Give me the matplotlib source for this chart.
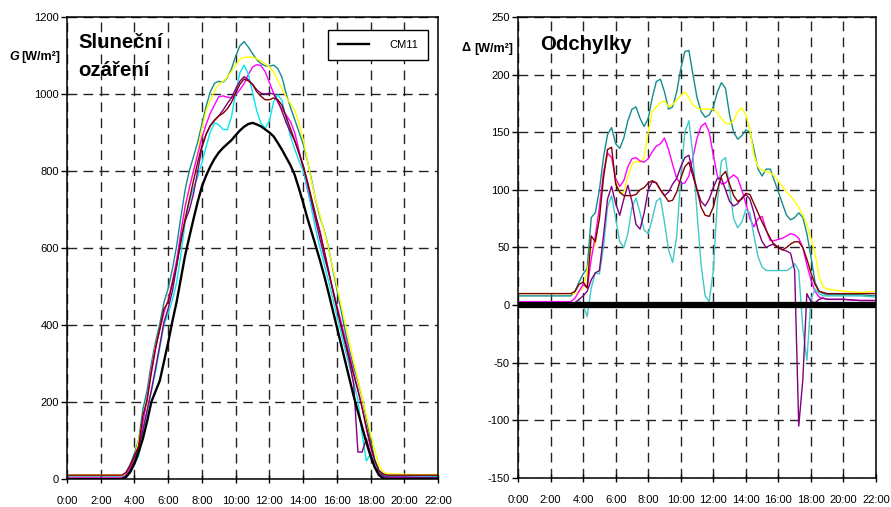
import matplotlib
matplotlib.use("Agg")
import matplotlib.pyplot as plt

plt.rcParams["font.family"] = ["Liberation Sans", "DejaVu Sans"]
plt.rcParams["axes.unicode_minus"] = False

# sample times [h]
TIME = [0, 1, 2, 3,
        3.25, 3.5, 3.75, 4.0, 4.25, 4.5, 4.75, 5.0, 5.25, 5.5, 5.75, 6.0,
        6.25, 6.5, 6.75, 7.0, 7.25, 7.5, 7.75, 8.0, 8.25, 8.5, 8.75, 9.0,
        9.25, 9.5, 9.75, 10.0, 10.25, 10.5, 10.75, 11.0, 11.25, 11.5, 11.75, 12.0,
        12.25, 12.5, 12.75, 13.0, 13.25, 13.5, 13.75, 14.0, 14.25, 14.5, 14.75, 15.0,
        15.25, 15.5, 15.75, 16.0, 16.25, 16.5, 16.75, 17.0, 17.25, 17.5, 17.75, 18.0,
        18.25, 18.5, 18.75, 19.0,
        20, 21, 22]

# reference pyranometer CM11 [W/m2]
CM11 = [0, 0, 0, 0,
        0, 5, 18, 40, 70, 105, 150, 200, 228, 255, 305, 355,
        410, 460, 520, 580, 628, 675, 720, 760, 788, 812, 832, 848,
        860, 870, 880, 893, 905, 915, 922, 925, 921, 916, 908, 900,
        890, 873, 855, 835, 815, 790, 755, 718, 678, 642, 605, 568,
        528, 485, 440, 395, 350, 305, 260, 215, 175, 135, 95, 60,
        30, 10, 2, 0,
        0, 0, 0]

# deviations of the other sensors from CM11 [W/m2]
DEV_TEAL = [8, 8, 8, 8,
            8, 12, 20, 27, 32, 76, 80, 100, 128, 148, 154, 140,
            136, 145, 160, 170, 172, 162, 155, 162, 180, 194, 196, 185,
            170, 172, 185, 205, 220, 221, 200, 180, 168, 163, 165, 172,
            185, 193, 188, 165, 150, 144, 147, 152, 150, 135, 118, 112,
            118, 118, 108, 98, 88, 78, 74, 76, 80, 76, 62, 42,
            20, 12, 10, 9,
            9, 9, 8]
DEV_YELLOW = [10, 10, 10, 10,
              10, 10, 12, 15, 30, 48, 52, 80, 115, 130, 128, 110,
              97, 98, 112, 122, 125, 124, 128, 150, 168, 172, 176, 177,
              172, 174, 178, 182, 185, 180, 174, 171, 170, 170, 170, 170,
              167, 162, 158, 157, 160, 168, 171, 165, 152, 130, 120, 117,
              116, 115, 112, 107, 103, 98, 95, 90, 85, 78, 70, 58,
              45, 25, 16, 14,
              12, 11, 12]
DEV_MAGENTA = [3, 3, 3, 3,
               3, 6, 12, 18, 15, 40, 60, 85, 115, 132, 128, 110,
               103, 108, 120, 127, 128, 125, 124, 127, 133, 138, 140, 145,
               135, 122, 110, 105, 106, 112, 128, 145, 155, 158, 150, 130,
               112, 105, 106, 110, 113, 110, 100, 88, 75, 68, 75, 77,
               65, 56, 56, 57, 58, 60, 62, 61, 58, 50, 35, 22,
               12, 7, 6, 5,
               5, 4, 4]
DEV_PURPLE = [0, 0, 0, 0,
              0, 2, 5, 8, 12, 22, 28, 30, 60, 92, 103, 88,
              78, 92, 104, 90, 70, 66, 80, 100, 107, 106, 100, 95,
              98, 105, 110, 120, 128, 130, 115, 100, 90, 86, 92, 102,
              110, 110, 100, 90, 86, 88, 93, 96, 92, 80, 65, 55,
              50, 52, 53, 50, 48, 47, 45, 30, -105, -65, 10, 3,
              2, 5, 6, 5,
              5, 4, 4]
DEV_DARKRED = [10, 10, 10, 10,
               10, 12, 18, 20, 15, 60, 55, 75, 110, 135, 137, 105,
               98, 95, 95, 95, 96, 100, 102, 106, 108, 106, 100, 95,
               90, 91, 98, 110, 120, 124, 112, 100, 85, 78, 77, 85,
               100, 112, 116, 105, 95, 90, 92, 97, 96, 88, 80, 72,
               65, 58, 52, 50, 48, 50, 53, 55, 55, 50, 40, 28,
               18, 12, 11, 10,
               10, 10, 10]
DEV_CYAN = [0, 0, 0, 0,
            0, 2, 4, 0, -10, 15, 28, 27, 50, 85, 95, 75,
            55, 50, 62, 85, 93, 80, 65, 62, 75, 90, 93, 72,
            48, 37, 60, 110, 150, 160, 130, 80, 35, 8, 3, 30,
            90, 125, 128, 100, 75, 67, 72, 83, 80, 60, 42, 33,
            30, 30, 30, 30, 30, 30, 32, 36, 30, -20, -48, 5,
            14, 10, 8, 8,
            8, 8, 7]

SERIES = [
    (DEV_TEAL, "#148c8c", "#148c8c"),
    (DEV_YELLOW, "#ffff00", "#ffff00"),
    (DEV_MAGENTA, "#ff00ff", "#ff00ff"),
    (DEV_CYAN, "#00e8f0", "#40c8c8"),
    (DEV_PURPLE, "#800080", "#800080"),
    (DEV_DARKRED, "#800000", "#800000"),
]

X_TICKS = [0, 2, 4, 6, 8, 10, 12, 14, 16, 18, 20, 22]
X_LABELS = [f"{h}:00" for h in X_TICKS]
G_TICKS = [0, 200, 400, 600, 800, 1000, 1200]
D_TICKS = [-150, -100, -50, 0, 50, 100, 150, 200, 250]


def style_axes(ax, yticks):
    ax.set_xlim(0, 22)
    ax.set_ylim(yticks[0], yticks[-1])
    ax.set_xticks(X_TICKS)
    ax.set_xticklabels(X_LABELS)
    ax.set_yticks(yticks)
    ax.grid(True, color="#222222", linestyle=(0, (7, 4.5)), linewidth=1.0)
    ax.tick_params(axis="x", direction="inout", length=6, width=1.0,
                   pad=9, labelsize=8)
    ax.tick_params(axis="y", direction="out", length=4, width=1.0,
                   pad=2, labelsize=8)
    for sp in ax.spines.values():
        sp.set_linewidth(1.1)
        sp.set_color("black")


fig = plt.figure(figsize=(8.91, 5.07), dpi=100)
ax1 = fig.add_axes([0.0752, 0.0552, 0.4164, 0.9113])
ax2 = fig.add_axes([0.5814, 0.0572, 0.4018, 0.9093])

# left: irradiance
for dev, c_left, _ in SERIES:
    g = [base + d for base, d in zip(CM11, dev)]
    ax1.plot(TIME, g, color=c_left, linewidth=1.0)
ax1.plot(TIME, CM11, color="black", linewidth=1.7, label="CM11")
style_axes(ax1, G_TICKS)
leg = ax1.legend(loc="upper right", bbox_to_anchor=(1 - 10 / 371, 1 - 13 / 462),
                 borderaxespad=0, fancybox=False, framealpha=1,
                 edgecolor="black", fontsize=8, handlelength=2.8,
                 handletextpad=1.8, borderpad=0.9)
leg.get_frame().set_linewidth(1.0)

# right: deviations
for dev, _, c_right in SERIES:
    ax2.plot(TIME, dev, color=c_right, linewidth=1.0)
ax2.plot(TIME, [0] * len(TIME), color="black", linewidth=4.5)
style_axes(ax2, D_TICKS)

# titles and axis labels
TITLE_KW = dict(fontsize=14.7, fontweight="bold", va="center", ha="left")
fig.text(78 / 891, 1 - 43 / 507, "Sluneční", **TITLE_KW)
fig.text(78 / 891, 1 - 70 / 507, "ozáření", **TITLE_KW)
fig.text(540 / 891, 1 - 45 / 507, "Odchylky", **TITLE_KW)

fig.text(9 / 891, 1 - 57 / 507, "G", fontsize=9, fontweight="bold",
         fontstyle="italic", va="center", ha="left")
fig.text(21 / 891, 1 - 57 / 507, "[W/m²]", fontsize=9, fontweight="bold",
         va="center", ha="left")
fig.text(462 / 891, 1 - 48 / 507, "Δ", fontsize=9, fontweight="bold",
         va="center", ha="left")
fig.text(474 / 891, 1 - 49 / 507, "[W/m²]", fontsize=9, fontweight="bold",
         va="center", ha="left")

fig.savefig("out.png", dpi=100)
